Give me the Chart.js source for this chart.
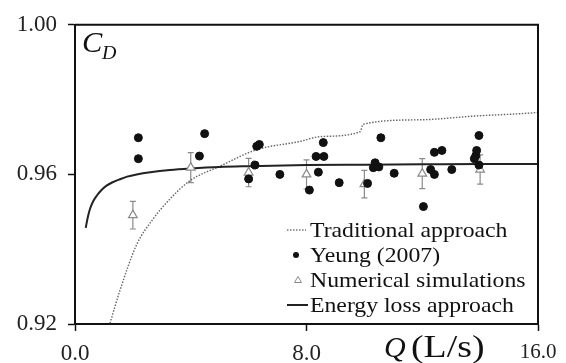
<!DOCTYPE html>
<html>
<head>
<meta charset="utf-8">
<script src="https://cdn.jsdelivr.net/npm/chart.js@4.4.1/dist/chart.umd.min.js"></script>
<style>
  html, body { margin: 0; padding: 0; background: #fff; }
  #wrap { width: 566px; height: 363px; }
</style>
</head>
<body>
<div id="wrap"><canvas id="cdChart" width="566" height="363"></canvas></div>
<script>
// Yeung (2007) measurements
const qYeung = [2.19, 2.19, 4.48, 4.30, 6.28, 6.37, 6.22, 6.00, 7.08, 8.10, 8.33, 8.41, 8.60, 8.58, 9.13,
  10.57, 10.37, 10.31, 10.50, 10.11, 11.03, 12.04, 12.29, 12.42, 12.42, 12.68, 13.02, 13.96, 13.88, 13.85, 13.80, 13.96];
const cdYeung = [0.9698, 0.9642, 0.9709, 0.9649, 0.9675, 0.9680, 0.9625, 0.9588, 0.9600, 0.9558, 0.9648, 0.9606, 0.9648, 0.9685, 0.9578,
  0.9698, 0.9631, 0.9618, 0.9620, 0.9576, 0.9603, 0.9514, 0.9613, 0.9600, 0.9659, 0.9664, 0.9613, 0.9704, 0.9664, 0.9650, 0.9642, 0.9625];

// numerical simulations with error bars
const qSim = [2, 4, 6, 8, 10, 12, 14];
const cdSim = [0.9491, 0.9618, 0.9605, 0.9600, 0.9574, 0.9602, 0.9613];
const errSim = [0.0037, 0.0040, 0.0038, 0.0039, 0.0037, 0.0040, 0.0039];

// energy loss approach
const qEnergy = [0.37, 0.45, 0.52, 0.62, 0.75, 0.9, 1.09, 1.3, 1.55, 1.8, 2.13, 2.6, 3.28, 4, 5, 6, 8, 10, 12, 14, 16];
const cdEnergy = [0.9457, 0.9488, 0.9508, 0.9527, 0.9543, 0.9557, 0.9570, 0.9579, 0.9587, 0.9594, 0.9600, 0.9606,
  0.9612, 0.9616, 0.9620, 0.9622, 0.9625, 0.9626, 0.9627, 0.9628, 0.9628];

// traditional approach
const qTrad = [1.21, 1.55, 2.13, 2.71, 3.28, 3.97, 5.01, 6.28, 7.77, 8.47, 9.85, 9.96, 11.92, 13.8, 15.72, 16];
const cdTrad = [0.9202, 0.9289, 0.9412, 0.9482, 0.9534, 0.9583, 0.9622, 0.9666, 0.9688, 0.9701, 0.9714, 0.9734,
  0.9746, 0.9756, 0.9764, 0.9766];

const xTicks = [0, 8, 16];
const yTicks = [0.92, 0.96, 1.00];
const legendLabels = ["Traditional approach", "Yeung (2007)", "Numerical simulations", "Energy loss approach"];

const serif = "'Liberation Serif', 'Times New Roman', serif";
const toXY = (xs, ys) => xs.map((x, i) => ({ x: x, y: ys[i] }));

// text a bit wider than the font, like the source figure
function wideText(ctx, text, x, y, sx) {
  ctx.save();
  ctx.translate(x, y);
  ctx.scale(sx, 1);
  ctx.fillText(text, 0, 0);
  ctx.restore();
}

// error bars under the triangles
const errorBars = {
  id: "errorBars",
  beforeDatasetsDraw(chart) {
    const { ctx, scales } = chart;
    ctx.save();
    ctx.strokeStyle = "#8a8a8a";
    ctx.lineWidth = 1.2;
    qSim.forEach((q, i) => {
      const px = scales.x.getPixelForValue(q);
      const top = scales.y.getPixelForValue(cdSim[i] + errSim[i]);
      const bot = scales.y.getPixelForValue(cdSim[i] - errSim[i]);
      ctx.beginPath();
      ctx.moveTo(px, top); ctx.lineTo(px, bot);
      ctx.moveTo(px - 3, top); ctx.lineTo(px + 3, top);
      ctx.moveTo(px - 3, bot); ctx.lineTo(px + 3, bot);
      ctx.stroke();
    });
    ctx.restore();
  },
};

// frame, axis titles and legend
const decorations = {
  id: "decorations",
  afterDraw(chart) {
    const { ctx, chartArea: a } = chart;
    ctx.save();
    ctx.strokeStyle = "#111";
    ctx.lineWidth = 2;
    ctx.beginPath();
    ctx.moveTo(a.left, a.top); ctx.lineTo(a.right, a.top); ctx.lineTo(a.right, a.bottom);
    ctx.stroke();

    ctx.fillStyle = "#111";
    ctx.textBaseline = "alphabetic";
    ctx.textAlign = "left";
    ctx.font = "italic 29px " + serif;
    wideText(ctx, "C", 82, 52, 1.05);
    ctx.font = "italic 19px " + serif;
    wideText(ctx, "D", 102, 59, 1.05);

    ctx.font = "italic 30px " + serif;
    wideText(ctx, "Q", 384, 357, 1.0);
    ctx.font = "31px " + serif;
    wideText(ctx, "(L/s)", 411, 357, 1.22);

    // legend
    const rows = [230, 255, 280, 305];
    ctx.font = "21px " + serif;
    ctx.textBaseline = "middle";
    legendLabels.forEach((t, i) => wideText(ctx, t, 310, rows[i] + 1, 1.13));

    ctx.strokeStyle = "#777";
    ctx.lineWidth = 1.3;
    ctx.setLineDash([1.5, 1.5]);
    ctx.beginPath(); ctx.moveTo(287, rows[0]); ctx.lineTo(306, rows[0]); ctx.stroke();
    ctx.setLineDash([]);

    ctx.fillStyle = "#111";
    ctx.beginPath(); ctx.arc(296, rows[1], 3, 0, Math.PI * 2); ctx.fill();

    ctx.strokeStyle = "#8a8a8a";
    ctx.lineWidth = 1;
    ctx.beginPath();
    ctx.moveTo(298, rows[2] - 3.5); ctx.lineTo(301.5, rows[2] + 2.5); ctx.lineTo(294.5, rows[2] + 2.5);
    ctx.closePath(); ctx.stroke();

    ctx.strokeStyle = "#222";
    ctx.lineWidth = 2;
    ctx.beginPath(); ctx.moveTo(287, rows[3]); ctx.lineTo(308, rows[3]); ctx.stroke();
    ctx.restore();
  },
};

new Chart(document.getElementById("cdChart").getContext("2d"), {
  type: "scatter",
  data: {
    datasets: [
      {
        label: legendLabels[0],
        type: "line",
        data: toXY(qTrad, cdTrad),
        borderColor: "#666",
        borderWidth: 1.4,
        borderDash: [1.5, 1.5],
        pointRadius: 0,
        cubicInterpolationMode: "monotone",
        fill: false,
        order: 4,
      },
      {
        label: legendLabels[1],
        data: toXY(qYeung, cdYeung),
        backgroundColor: "#111",
        borderColor: "#111",
        pointRadius: 4,
        pointStyle: "circle",
        order: 1,
      },
      {
        label: legendLabels[2],
        data: toXY(qSim, cdSim),
        backgroundColor: "#fff",
        borderColor: "#8a8a8a",
        borderWidth: 1.2,
        pointRadius: 5,
        pointStyle: "triangle",
        order: 2,
      },
      {
        label: legendLabels[3],
        type: "line",
        data: toXY(qEnergy, cdEnergy),
        borderColor: "#222",
        borderWidth: 2,
        pointRadius: 0,
        cubicInterpolationMode: "monotone",
        fill: false,
        order: 3,
      },
    ],
  },
  options: {
    responsive: false,
    animation: false,
    layout: { padding: { left: 0, top: 19, right: 28, bottom: 0 } },
    plugins: { legend: { display: false }, tooltip: { enabled: false } },
    scales: {
      x: {
        type: "linear",
        min: 0,
        max: 16,
        afterBuildTicks: (s) => { s.ticks = xTicks.map((v) => ({ value: v })); },
        afterFit: (s) => { s.height = 39; },
        border: { display: true, color: "#111", width: 2 },
        grid: { drawOnChartArea: false, drawTicks: true, tickLength: 7, tickWidth: 1.5, tickColor: "#111" },
        ticks: {
          color: "#222",
          padding: 9,
          font: (c) => ({ family: serif, size: c.tick && c.tick.value === 16 ? 21 : 23 }),
          callback: (v) => v.toFixed(1),
        },
      },
      y: {
        type: "linear",
        min: 0.92,
        max: 1.0,
        afterBuildTicks: (s) => { s.ticks = yTicks.map((v) => ({ value: v })); },
        afterFit: (s) => { s.width = 75; },
        border: { display: true, color: "#111", width: 2 },
        grid: { drawOnChartArea: false, drawTicks: true, tickLength: 7, tickWidth: 1.5, tickColor: "#111" },
        ticks: {
          color: "#222",
          padding: 11,
          font: { family: serif, size: 23 },
          callback: (v) => v.toFixed(2),
        },
      },
    },
  },
  plugins: [errorBars, decorations],
});
</script>
</body>
</html>
